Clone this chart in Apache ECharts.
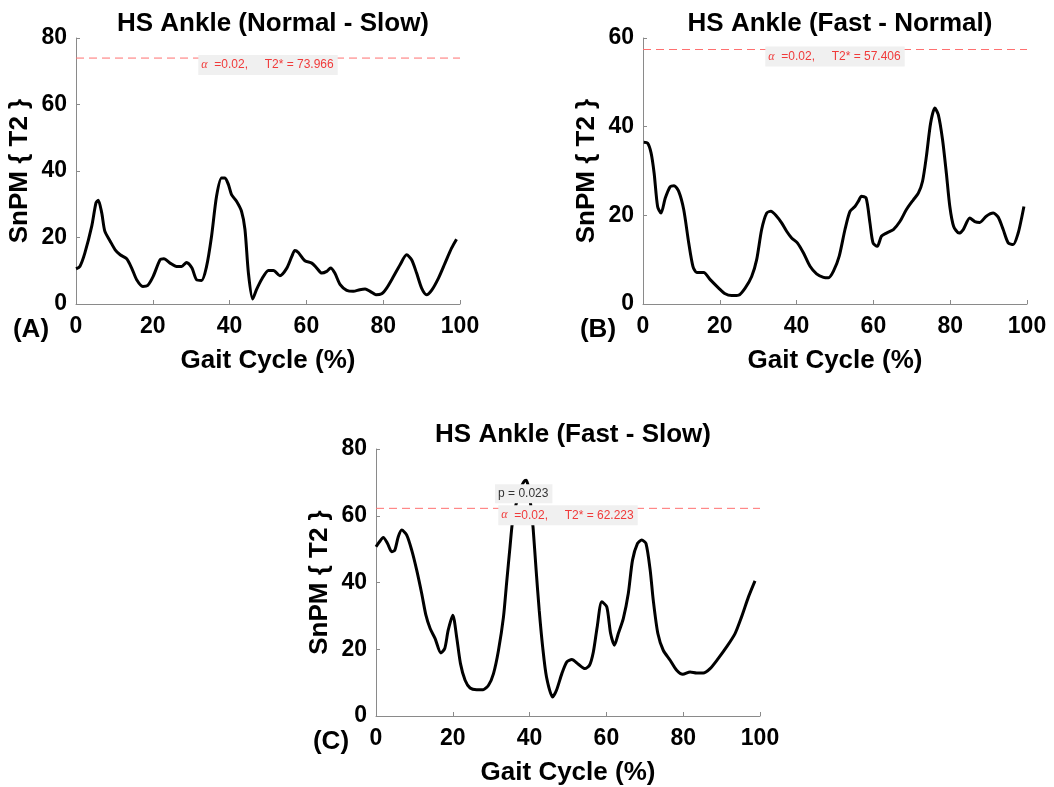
<!DOCTYPE html>
<html>
<head>
<meta charset="utf-8">
<script src="https://cdn.jsdelivr.net/npm/echarts@6/dist/echarts.min.js"></script>
<style>
  html, body { margin: 0; padding: 0; background: #ffffff; }
  #chart { width: 1054px; height: 787px; }
</style>
</head>
<body>
<div id="chart"></div>
<script>
// Gait cycle (%) positions and SnPM {T2} statistic for each comparison
const gaitA = [0, 1, 2.3, 4.1, 5.2, 5.8, 6.7, 7.5, 8.9, 10.2, 11.5, 13.2, 14.5, 15.8, 17.4, 18.6, 20.1, 21.9, 22.9, 24.5, 26.2, 27.5, 28.8, 30.2, 31.4, 32.7, 34.0, 35.3, 36.6, 37.9, 38.8, 39.7, 40.5, 41.8, 43.1, 44.0, 44.9, 46.0, 47.0, 48.4, 50.1, 51.4, 53.1, 54.9, 56.2, 57.0, 57.9, 59.6, 61.4, 62.7, 64.0, 65.3, 66.3, 67.4, 68.8, 70.5, 72.2, 73.9, 75.3, 76.6, 78.1, 79.6, 80.9, 82.6, 84.4, 86.1, 87.4, 88.7, 90.0, 91.3, 92.6, 94.4, 96.1, 97.8, 99.1];
const t2A = [10.6, 11.3, 15.3, 23.4, 30.4, 31.2, 27.4, 21.9, 18.9, 16.3, 14.8, 13.6, 10.8, 7.3, 5.3, 5.5, 8.3, 13.3, 13.6, 12.3, 11.3, 11.3, 12.5, 10.8, 7.3, 7.1, 11.3, 20.4, 32.4, 37.9, 37.9, 35.9, 32.9, 30.9, 27.9, 22.4, 9.3, 1.5, 4.3, 7.5, 10.1, 10.1, 8.5, 10.8, 14.3, 16.1, 15.5, 13.0, 12.3, 10.8, 9.3, 9.8, 10.8, 9.3, 5.8, 4.1, 3.8, 4.3, 4.5, 3.8, 2.8, 3.1, 4.8, 8.1, 11.8, 14.8, 13.3, 9.3, 4.8, 2.8, 4.1, 7.8, 12.3, 16.8, 19.5];

const gaitB = [0.2, 1.2, 2.1, 2.9, 3.8, 4.7, 5.8, 7.1, 8.1, 9.3, 10.6, 11.9, 13.0, 14.0, 15.8, 17.5, 19.7, 21.4, 23.1, 24.9, 26.6, 28.3, 29.6, 30.9, 32.2, 33.3, 34.8, 36.1, 37.4, 38.7, 40.2, 41.8, 43.5, 45.2, 47.0, 48.3, 49.6, 51.1, 52.6, 53.9, 55.2, 56.1, 56.9, 58.1, 59.1, 59.9, 61.0, 62.1, 63.4, 65.2, 66.9, 68.6, 70.4, 71.7, 72.8, 73.8, 74.9, 76.0, 76.9, 78.0, 79.0, 79.9, 80.9, 82.3, 83.4, 85.1, 86.4, 87.7, 89.4, 91.2, 92.5, 93.8, 95.1, 96.4, 97.7, 98.5, 99.2];
const t2B = [36.5, 36.3, 34.1, 29.5, 22.0, 20.5, 23.9, 26.5, 26.7, 25.4, 21.3, 13.8, 8.5, 7.1, 7.1, 5.5, 3.6, 2.3, 1.9, 2.0, 3.6, 6.2, 10.0, 16.8, 20.5, 20.9, 19.8, 18.3, 16.4, 14.9, 13.8, 11.5, 8.5, 6.8, 6.0, 5.9, 7.4, 10.8, 16.8, 20.9, 22.0, 23.2, 24.3, 23.9, 18.3, 13.8, 13.0, 15.3, 16.0, 16.8, 18.6, 21.3, 23.5, 25.0, 27.7, 33.3, 40.8, 44.2, 42.7, 37.1, 29.5, 22.0, 17.5, 16.0, 16.8, 19.4, 18.6, 18.4, 19.8, 20.5, 19.6, 16.8, 13.8, 13.4, 16.0, 19.0, 22.0];

const gaitC = [0, 0.9, 1.9, 3.0, 4.1, 4.9, 5.8, 6.7, 8.0, 9.3, 10.6, 11.9, 13.0, 14.1, 15.4, 16.9, 17.9, 18.8, 20.0, 21.0, 22.0, 23.2, 24.5, 26.2, 27.9, 29.3, 30.6, 31.9, 33.2, 34.0, 34.9, 35.6, 36.6, 37.6, 38.5, 39.1, 39.8, 40.4, 40.9, 41.7, 42.5, 43.4, 44.4, 46.0, 47.0, 48.4, 49.7, 51.0, 52.7, 54.4, 55.6, 56.6, 57.6, 58.8, 60.1, 61.1, 62.1, 63.1, 64.4, 65.7, 66.8, 68.1, 69.2, 70.3, 71.4, 72.2, 73.4, 74.8, 76.6, 78.3, 79.9, 81.8, 83.5, 85.2, 87.0, 89.1, 91.3, 93.5, 95.2, 97.0, 98.7];
const t2C = [50.7, 52.2, 53.5, 51.7, 49.2, 49.7, 53.7, 55.7, 54.2, 49.7, 43.7, 36.7, 30.2, 26.2, 23.2, 18.9, 20.2, 25.7, 30.2, 23.7, 15.7, 10.7, 8.4, 7.9, 7.9, 9.2, 12.7, 19.7, 29.7, 39.7, 50.7, 58.7, 64.0, 68.0, 70.2, 70.6, 68.0, 62.0, 56.5, 43.7, 31.7, 20.7, 11.7, 5.7, 7.7, 12.7, 16.2, 16.9, 15.5, 14.2, 15.2, 19.2, 26.7, 34.2, 32.7, 24.7, 21.2, 24.7, 29.2, 36.7, 46.7, 51.7, 52.7, 51.7, 43.7, 34.7, 24.7, 19.7, 16.7, 13.7, 12.5, 13.2, 12.9, 12.9, 14.2, 17.2, 20.7, 24.7, 29.7, 35.7, 40.5];

// Critical thresholds (alpha = 0.02) and the supra-threshold p value
const titles = ['HS Ankle (Normal - Slow)', 'HS Ankle (Fast - Normal)', 'HS Ankle (Fast - Slow)'];
const panelTags = ['(A)', '(B)', '(C)'];
const alphaLevel = '0.02';
const thresholds = [73.966, 57.406, 62.223];
const yMax = [80, 60, 80];
const xTicks = [0, 20, 40, 60, 80, 100];
const pValueC = '0.023';

const FONT = 'Arial, "Liberation Sans", Helvetica, sans-serif';
const THR_COLOR = '#ff7070';
const grids = [
  { left: 76, top: 38, width: 384, height: 266 },
  { left: 643, top: 38, width: 384, height: 266 },
  { left: 376, top: 449, width: 384, height: 267 }
];
const curves = [[gaitA, t2A], [gaitB, t2B], [gaitC, t2C]];
const X0 = xTicks[0], X1 = xTicks[xTicks.length - 1];

const pairs = (xs, ys) => xs.map((x, i) => [x, ys[i]]);

const xAxes = grids.map((g, i) => ({
  type: 'value', gridIndex: i, min: X0, max: X1, interval: 20,
  name: 'Gait Cycle (%)', nameLocation: 'middle', nameGap: 44,
  nameTextStyle: { fontFamily: FONT, fontWeight: 'bold', fontSize: 26, color: '#000' },
  axisLine: { show: true, onZero: false, lineStyle: { color: '#8a8a8a', width: 1 } },
  axisTick: { show: true, inside: true, length: 4, lineStyle: { color: '#8a8a8a' } },
  axisLabel: { fontFamily: FONT, fontWeight: 'bold', fontSize: 23, color: '#000', margin: 11 },
  splitLine: { show: false }
}));

const yAxes = grids.map((g, i) => ({
  type: 'value', gridIndex: i, min: 0, max: yMax[i], interval: 20,
  name: 'SnPM { T2 }', nameLocation: 'middle', nameGap: 43, nameRotate: 90,
  nameTextStyle: { fontFamily: FONT, fontWeight: 'bold', fontSize: 26, color: '#000' },
  axisLine: { show: true, onZero: false, lineStyle: { color: '#8a8a8a', width: 1 } },
  axisTick: { show: true, inside: true, length: 4, lineStyle: { color: '#8a8a8a' } },
  axisLabel: { fontFamily: FONT, fontWeight: 'bold', fontSize: 23, color: '#000', margin: 9 },
  splitLine: { show: false }
}));

const labelRich = {
  a: { fontFamily: '"Liberation Serif", "DejaVu Serif", serif', fontStyle: 'italic', fontSize: 12, color: '#f03a3a' },
  t: { fontFamily: FONT, fontSize: 12, color: '#f03a3a' }
};

const series = [];
curves.forEach(([xs, ys], i) => {
  series.push({
    type: 'line', xAxisIndex: i, yAxisIndex: i, data: pairs(xs, ys),
    smooth: 0.25, showSymbol: false, symbol: 'none',
    lineStyle: { color: '#000', width: 3 }, z: 1, silent: true
  });
  // dashed critical threshold across the whole cycle, with its annotation box
  const markData = [{
    coord: [(X0 + X1) / 2, thresholds[i]],
    label: {
      show: true, position: 'bottom', distance: -3,
      backgroundColor: '#f0f0f0', padding: [4, 4, 4, 3],
      formatter: '{a|α}{t|  =' + alphaLevel + ',     T2* = ' + thresholds[i].toFixed(3) + '}',
      rich: labelRich
    }
  }];
  if (i === 2) {
    markData.push({
      coord: [31.0, 66.6],
      label: {
        show: true, position: 'right', distance: 0,
        backgroundColor: '#f0f0f0', padding: [4, 4, 3, 3],
        fontFamily: FONT, fontSize: 12, color: '#333',
        formatter: 'p = ' + pValueC
      }
    });
  }
  series.push({
    type: 'line', xAxisIndex: i, yAxisIndex: i, z: 10, silent: true,
    data: [[X0, thresholds[i]], [X1, thresholds[i]]],
    showSymbol: false, symbol: 'none', color: THR_COLOR,
    lineStyle: { color: THR_COLOR, type: [8, 5], width: 1 },
    markPoint: {
      silent: true, symbol: 'circle', symbolSize: 0, animation: false, z: 20,
      data: markData
    }
  });
});

const titleOpts = titles.map((t, i) => ({
  text: t, left: grids[i].left + grids[i].width / 2, textAlign: 'center',
  top: i === 2 ? 417 : 6,
  textStyle: { fontFamily: FONT, fontWeight: 'bold', fontSize: 26, color: '#000' }
}));

const tagGraphics = panelTags.map((t, i) => ({
  type: 'text', x: grids[i].left - 45, y: grids[i].top + grids[i].height + 26,
  style: { text: t, fontFamily: FONT, fontWeight: 'bold', fontSize: 26, fill: '#000',
           align: 'center', verticalAlign: 'middle' }
}));

const chart = echarts.init(document.getElementById('chart'), null, { renderer: 'canvas' });
chart.setOption({
  backgroundColor: '#ffffff',
  animation: false,
  title: titleOpts,
  grid: grids,
  xAxis: xAxes,
  yAxis: yAxes,
  series: series,
  graphic: tagGraphics
});
</script>
</body>
</html>
